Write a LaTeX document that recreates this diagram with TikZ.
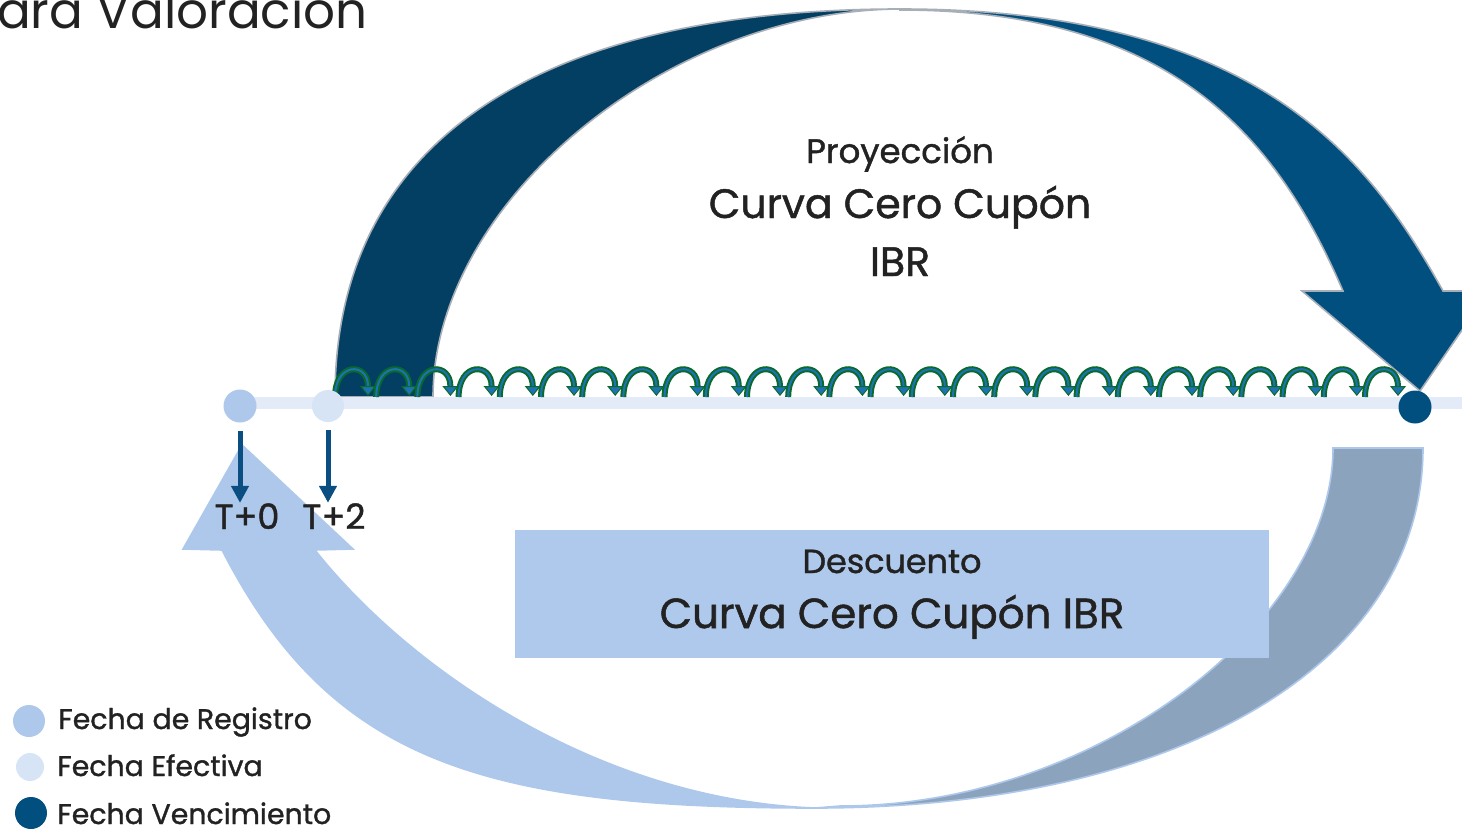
\documentclass[tikz,border=0pt]{standalone}
\usepackage{fontspec}
\setmainfont{Poppins}
\newfontfamily\medfont{Poppins}[RawFeature={embolden=1.2}]
\usetikzlibrary{arrows.meta,positioning}

\definecolor{navyDark}{HTML}{023F62}
\definecolor{navy}{HTML}{004F7F}
\definecolor{arcEdge}{HTML}{A6AEB7}
\definecolor{regBlue}{HTML}{AEC8EB}
\definecolor{efeBlue}{HTML}{D7E4F5}
\definecolor{lineBlue}{HTML}{E2EBF7}
\definecolor{grayBlue}{HTML}{8CA3BE}
\definecolor{boxBlue}{HTML}{AFC9EC}
\definecolor{arrowBlue}{HTML}{0B4F82}
\definecolor{loopGreen}{HTML}{0A6A2C}
\definecolor{loopBlue}{HTML}{1E72B4}
\definecolor{textDark}{HTML}{222222}

\tikzset{
  txt/.style={text=textDark, inner sep=0pt},
  dot/.style={circle, inner sep=0pt, minimum size=#1},
  downarrow/.style={arrowBlue, line width=2.5pt, -{Triangle[length=8.5pt, width=8.5pt]}}
}

\begin{document}
\begin{tikzpicture}[x=0.5pt, y=-0.5pt]
  \useasboundingbox (0,0) rectangle (1462,829);
  \clip (0,0) rectangle (1462,829);

  % Draw title
  \node[txt, anchor=base east, font=\fontsize{25}{30}\selectfont] (title) at (368,29) {ara Valoración};

  % Draw bottom arrow (Descuento)
  \filldraw[fill=regBlue, draw=regBlue, line width=0.8pt]
    (222,550) .. controls (330,760) and (480,808) .. (815,808)
    .. controls (600,800) and (410,670) .. (315,550)
    -- (353,549) -- (242,445) -- (183,549) -- cycle;
  \filldraw[fill=grayBlue, draw=regBlue, line width=0.8pt]
    (815,808) .. controls (1180,808) and (1423,664) .. (1423,448)
    -- (1333,448) .. controls (1333,620) and (1100,806) .. (840,806) -- cycle;

  % Draw top arrow (Proyeccion)
  \filldraw[fill=navyDark, draw=arcEdge, line width=0.8pt]
    (335,397) .. controls (335,145) and (533,9) .. (900,9)
    .. controls (666,10) and (433,203) .. (433,397) -- cycle;
  \filldraw[fill=navy, draw=arcEdge, line width=0.8pt]
    (900,9) .. controls (1260,9) and (1370,160) .. (1443,291)
    -- (1489,291) -- (1420,391) -- (1302,291) -- (1343,291)
    .. controls (1276,135) and (1170,10) .. (900,10) -- cycle;

  % Draw descuento box
  \node[fill=boxBlue, inner sep=0pt, minimum width=377pt, minimum height=64pt] (box) at (892,594) {};
  \node[txt, anchor=base, font=\medfont\fontsize{16.7}{20}\selectfont] (desc) at (892,573) {Descuento};
  \node[txt, anchor=base, font=\medfont\fontsize{21}{25}\selectfont] (curvaBot) at (892,628) {Curva Cero Cupón IBR};

  % Draw proyeccion texts
  \node[txt, anchor=base, font=\medfont\fontsize{17}{20}\selectfont] (proy) at (900,163) {Proyección};
  \node[txt, anchor=base, font=\medfont\fontsize{20.5}{24}\selectfont] (curvaTop) at (900,218) {Curva Cero Cupón};
  \node[txt, anchor=base, font=\medfont\fontsize{20.5}{24}\selectfont] (ibrTop) at (900,276) {IBR};

  % Draw time line
  \coordinate (lineStart) at (240,403);
  \coordinate (lineEnd) at (1462,403);
  \draw[lineBlue, line width=6pt] (lineStart) -- (lineEnd);

  % Draw small loops
  \foreach \i in {0,...,25} {
    \pgfmathsetmacro\x{335+41.2*\i}
    \draw[loopGreen, line width=3pt, -{Triangle[length=5pt, width=8pt, line width=0.5pt, fill=loopBlue]}]
      (\x,397) .. controls (\x,362) and (\x+33,362) .. (\x+33,396);
    \draw[loopBlue, line width=1pt, shorten >=5pt]
      (\x,397) .. controls (\x,362) and (\x+33,362) .. (\x+33,396);
  }

  % Draw dates
  \node[dot=16.5pt, fill=regBlue] (t0) at (240,406) {};
  \node[dot=16pt, fill=efeBlue] (t2) at (328,406) {};
  \node[dot=16.5pt, fill=navy] (venc) at (1415,407) {};

  \node[txt, anchor=base, font=\medfont\fontsize{17.5}{21}\selectfont] (lblT0) at (247,529) {T+0};
  \node[txt, anchor=base, font=\medfont\fontsize{17.5}{21}\selectfont] (lblT2) at (334,529) {T+2};
  \draw[downarrow, shorten <=4pt] (t0) -- (t0 |- lblT0.north);
  \draw[downarrow, shorten <=4pt] (t2) -- (t2 |- lblT2.north);

  % Draw legend
  \node[dot=16pt, fill=regBlue] (legReg) at (29,721) {};
  \node[dot=14pt, fill=efeBlue] (legEfe) at (30,767) {};
  \node[dot=16pt, fill=navy] (legVen) at (31,813) {};
  \node[txt, anchor=base west, font=\medfont\fontsize{14.2}{17}\selectfont] at (58,729) {Fecha de Registro};
  \node[txt, anchor=base west, font=\medfont\fontsize{14.2}{17}\selectfont] at (57,776) {Fecha Efectiva};
  \node[txt, anchor=base west, font=\medfont\fontsize{14.2}{17}\selectfont] at (57,824) {Fecha Vencimiento};
\end{tikzpicture}
\end{document}
